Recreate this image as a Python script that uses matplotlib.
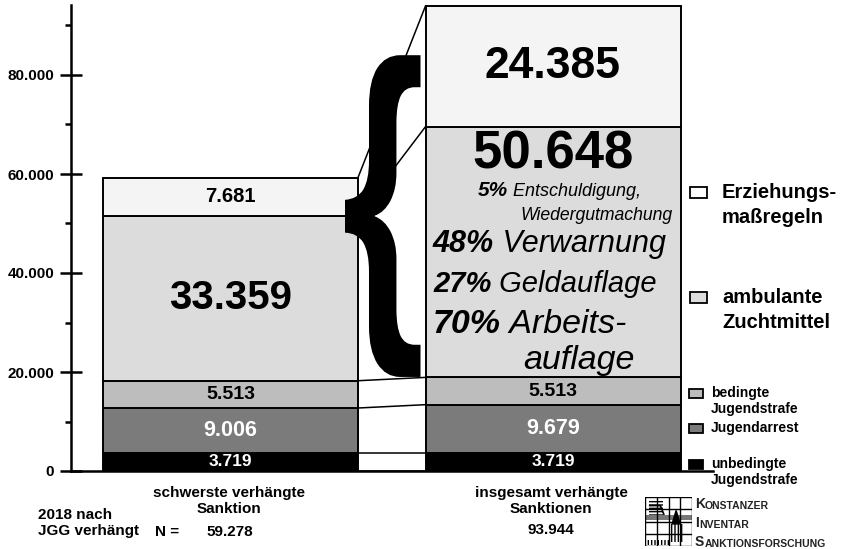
import numpy as np
import matplotlib
matplotlib.use("Agg")
import matplotlib.pyplot as plt
from matplotlib.patches import Rectangle, PathPatch
from matplotlib.textpath import TextPath
from matplotlib.font_manager import FontProperties
from matplotlib.transforms import Affine2D

plt.rcParams['font.family'] = ['Liberation Sans', 'DejaVu Sans']

# data (bottom to top)
categories = ["unbedingte Jugendstrafe", "Jugendarrest", "bedingte Jugendstrafe",
              "ambulante Zuchtmittel", "Erziehungsmaßregeln"]
left_values = [3719, 9006, 5513, 33359, 7681]     # schwerste verhängte Sanktion
right_values = [3719, 9679, 5513, 50648, 24385]   # insgesamt verhängte Sanktionen
bar_labels = ["schwerste verhängte\nSanktion", "insgesamt verhängte\nSanktionen"]
shares = [("5%", "Entschuldigung,"), ("48%", "Verwarnung"), ("27%", "Geldauflage"),
          ("70%", "Arbeits-")]
yticks = [0, 20000, 40000, 60000, 80000]
minor_yticks = [10000, 30000, 50000, 70000, 90000]

colors = ["#000000", "#7b7b7b", "#bdbdbd", "#dcdcdc", "#f4f4f4"]
text_colors = ["white", "white", "black", "black", "black"]

W, H = 841, 549


def px(x, y):
    # pixel position -> figure fraction
    return x / W, 1 - y / H


def fmt(v):
    return f"{v:,}".replace(",", ".")


fig = plt.figure(figsize=(W / 100, H / 100), dpi=100)
ax = fig.add_axes([71 / W, (H - 471) / H, (W - 71) / W, (471 - 5) / H])
x_unit = 322.5  # pixels per x unit
ax.set_xlim(-(230.5 - 71) / x_unit, (W - 230.5) / x_unit)
ax.set_ylim(0, 466 / 4.95 * 1000)
width = 255 / x_unit

left_bottoms = np.concatenate([[0], np.cumsum(left_values)[:-1]])
right_bottoms = np.concatenate([[0], np.cumsum(right_values)[:-1]])

ax.bar(0, left_values, bottom=left_bottoms, width=width, color=colors,
       edgecolor="black", linewidth=1.4, zorder=2)
ax.bar(1, right_values, bottom=right_bottoms, width=width, color=colors,
       edgecolor="black", linewidth=1.4, zorder=2)

# connecting lines between the two bars
left_edges = np.concatenate([[0], np.cumsum(left_values)])
right_edges = np.concatenate([[0], np.cumsum(right_values)])
for yl, yr in zip(left_edges, right_edges):
    ax.plot([width / 2, 1 - width / 2], [yl, yr], color="black", lw=1.1, zorder=1)

# value labels
small_sizes = [12.5, 15.5, 14]
for i in range(3):
    ax.text(0, left_bottoms[i] + left_values[i] / 2, fmt(left_values[i]),
            ha="center", va="center", fontsize=small_sizes[i], fontweight="bold",
            color=text_colors[i], zorder=3)
    ax.text(1, right_bottoms[i] + right_values[i] / 2, fmt(right_values[i]),
            ha="center", va="center", fontsize=small_sizes[i], fontweight="bold",
            color=text_colors[i], zorder=3)
ax.text(0, left_bottoms[3] + left_values[3] / 2, fmt(left_values[3]), ha="center",
        va="center", fontsize=29, fontweight="bold", zorder=3)
ax.text(0, left_bottoms[4] + left_values[4] / 2, fmt(left_values[4]), ha="center",
        va="center", fontsize=14.5, fontweight="bold", zorder=3)
ax.text(1, right_bottoms[4] + right_values[4] / 2, fmt(right_values[4]), ha="center",
        va="center", fontsize=32, fontweight="bold", zorder=3)
ax.annotate(fmt(right_values[3]), xy=(1, right_bottoms[3] + right_values[3]),
            xytext=(0, -2), textcoords="offset points", ha="center", va="top",
            fontsize=38, fontweight="bold", zorder=3)


# breakdown of ambulante Zuchtmittel (italic text)
def mixed(x, y, bold, rest, size_b, size_r):
    t = fig.text(*px(x, y), bold, fontsize=size_b, fontweight="bold",
                 fontstyle="italic", ha="left", va="baseline")
    ax.annotate(" " + rest, xy=(1, 0), xycoords=t, ha="left", va="bottom",
                fontsize=size_r, fontstyle="italic", annotation_clip=False)
    return t


mixed(478, 196, shares[0][0], shares[0][1], 15, 13)
fig.text(*px(673, 220), "Wiedergutmachung", fontsize=12.7, fontstyle="italic",
         ha="right", va="baseline")
mixed(433, 252, shares[1][0], shares[1][1], 22, 22)
mixed(433, 292, shares[2][0], shares[2][1], 21, 21)
mixed(433, 333, shares[3][0], shares[3][1], 24.5, 24.5)
fig.text(*px(523, 369), "auflage", fontsize=24.5, fontstyle="italic",
         ha="left", va="baseline")

# big curly brace, fitted into the gap between the bars
tp = TextPath((0, 0), "{", size=1, prop=FontProperties(family="Liberation Sans", weight="bold"))
ext = tp.get_extents()
bx0, bx1 = width / 2 - 13 / x_unit, 1 - width / 2 - 5 / x_unit
by0, by1 = 19000, 84000
tr = Affine2D().translate(-ext.x0, -ext.y0).scale((bx1 - bx0) / ext.width,
                                                  (by1 - by0) / ext.height).translate(bx0, by0)
ax.add_patch(PathPatch(tp, transform=tr + ax.transData, facecolor="black",
                       edgecolor="none", zorder=4, clip_on=False))

# axes styling
for s in ["top", "right"]:
    ax.spines[s].set_visible(False)
ax.spines["left"].set_linewidth(1.8)
ax.spines["bottom"].set_linewidth(1.8)
ax.spines["bottom"].set_bounds(ax.get_xlim()[0], (713 - 230.5) / x_unit)
ax.set_xticks([])
ax.set_yticks(yticks)
ax.set_yticks(minor_yticks, minor=True)
ax.set_yticklabels([fmt(v) for v in yticks], fontsize=11, fontweight="bold")
ax.tick_params(axis="y", which="major", direction="inout", length=16, width=1.8, pad=4)
ax.tick_params(axis="y", which="minor", direction="out", length=4.5, width=1.8)
ax.patch.set_visible(False)

# bottom labels
fig.text(*px(229, 501), bar_labels[0], fontsize=11, fontweight="bold",
         ha="center", va="center", linespacing=1.2)
fig.text(*px(551, 501), bar_labels[1], fontsize=11, fontweight="bold",
         ha="center", va="center", linespacing=1.2)
fig.text(*px(38, 523), "2018 nach\nJGG verhängt", fontsize=11, fontweight="bold",
         ha="left", va="center", linespacing=1.2)
fig.text(*px(155, 532), "N =", fontsize=11, fontweight="bold", ha="left", va="center")
fig.text(*px(230, 532), fmt(sum(left_values)), fontsize=11, fontweight="bold",
         ha="center", va="center")
fig.text(*px(551, 530), fmt(sum(right_values)), fontsize=11, fontweight="bold",
         ha="center", va="center")


# legend
def legend_box(x, y, w, h, color):
    fig.patches.append(Rectangle(px(x, y + h / 2), w / W, h / H, transform=fig.transFigure,
                                 facecolor=color, edgecolor="black", linewidth=1.3))


legend_box(690, 193, 17, 11, "white")
fig.text(*px(722, 205), "Erziehungs-\nmaßregeln", fontsize=14.5, fontweight="bold",
         ha="left", va="center", linespacing=1.35)
legend_box(690, 297, 17, 11, colors[3])
fig.text(*px(722, 310), "ambulante\nZuchtmittel", fontsize=14.5, fontweight="bold",
         ha="left", va="center", linespacing=1.35)
legend_box(689, 393, 14, 9, colors[2])
fig.text(*px(711, 401), "bedingte\nJugendstrafe", fontsize=10, fontweight="bold",
         ha="left", va="center", linespacing=1.15)
legend_box(689, 428, 14, 9, colors[1])
fig.text(*px(711, 428), "Jugendarrest", fontsize=10, fontweight="bold",
         ha="left", va="center")
legend_box(689, 464, 14, 9, colors[0])
fig.text(*px(711, 472), "unbedingte\nJugendstrafe", fontsize=10, fontweight="bold",
         ha="left", va="center", linespacing=1.15)

# logo (Konstanzer Inventar Sanktionsforschung)
lx = fig.add_axes([645 / W, (H - 546) / H, 47 / W, 49 / H])
lx.set_xlim(0, 4)
lx.set_ylim(0, 4)
lx.axis("off")
for k in range(5):
    lx.plot([0, 4], [k, k], color="black", lw=1.0)
    lx.plot([k, k], [0, 4], color="black", lw=1.0)
lx.add_patch(Rectangle((0, 2.1), 4, 0.4, facecolor="#777777", edgecolor="none"))
lx.add_patch(Rectangle((0.2, 0.05), 2.0, 0.4, facecolor="none", hatch="|||||", edgecolor="black", lw=0))
lx.add_patch(Rectangle((2.0, 0.3), 1.3, 1.5, facecolor="none", hatch="|||||", edgecolor="black", lw=0))
lx.add_patch(Rectangle((0.3, 2.5), 1.2, 1.3, facecolor="none", hatch="-----", edgecolor="black", lw=0))
lx.fill([2.3, 2.65, 3.0], [1.8, 2.9, 1.8], color="black")
lx.plot([0.4, 1.3, 1.6], [3.3, 3.3, 2.6], color="black", lw=1.2)


def small_caps(x, y, first, rest):
    t = fig.text(*px(x, y), first, fontsize=10, fontweight="bold", ha="left",
                 va="baseline", color="#222222")
    ax.annotate(rest, xy=(1, 0), xycoords=t, ha="left", va="bottom", fontsize=7.5,
                fontweight="bold", color="#222222", annotation_clip=False)


small_caps(695, 508, "K", "ONSTANZER")
small_caps(695, 527, "I", "NVENTAR")
small_caps(695, 546, "S", "ANKTIONSFORSCHUNG")

fig.savefig("out.png", dpi=100)
